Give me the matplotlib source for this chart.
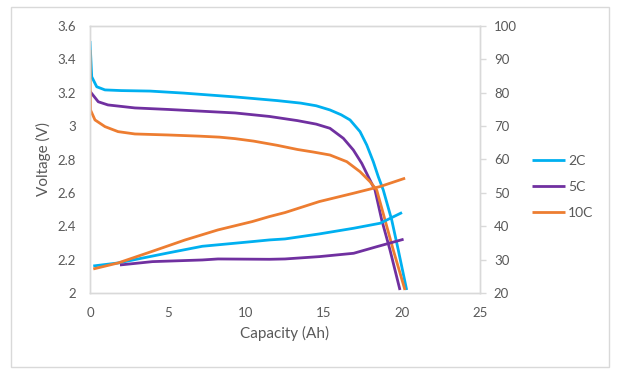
import matplotlib
matplotlib.use('Agg')
import matplotlib.pyplot as plt
from matplotlib.patches import Rectangle

plt.rcParams['font.family'] = ['Lato', 'DejaVu Sans']

# ---------------- data ----------------
series_names = ['2C', '5C', '10C']

# Voltage (left axis)
v2c_x = [0, 0.11, 0.43, 0.96, 2.0, 3.85, 6.0, 9.3, 12.0, 13.5, 14.5, 15.38, 16.1, 16.67, 17.31, 17.74, 18.16, 18.48, 18.80, 19.34, 19.76, 20.30]
v2c_y = [3.51, 3.296, 3.236, 3.217, 3.213, 3.21, 3.198, 3.175, 3.153, 3.138, 3.122, 3.097, 3.068, 3.037, 2.967, 2.887, 2.787, 2.697, 2.617, 2.438, 2.258, 2.018]

v5c_x = [0, 0.02, 0.53, 1.15, 2.88, 5.0, 9.3, 11.5, 13.3, 14.5, 15.38, 16.24, 16.88, 17.42, 17.84, 18.27, 18.70, 19.23, 19.87]
v5c_y = [3.21, 3.206, 3.146, 3.127, 3.109, 3.10, 3.079, 3.058, 3.033, 3.012, 2.987, 2.927, 2.857, 2.777, 2.697, 2.617, 2.438, 2.258, 2.018]

v10c_x = [0, 0.03, 0.32, 0.96, 1.8, 2.88, 5.0, 7.0, 8.3, 9.3, 10.5, 12.0, 13.3, 14.3, 15.38, 16.46, 17.31, 17.95, 18.38, 18.91, 19.44, 20.19]
v10c_y = [3.456, 3.097, 3.037, 2.997, 2.967, 2.953, 2.947, 2.94, 2.934, 2.925, 2.91, 2.885, 2.860, 2.845, 2.827, 2.787, 2.727, 2.667, 2.617, 2.438, 2.258, 2.018]

# Temperature (right axis)
t2c_x = [0.21, 1.8, 5.0, 7.2, 10.4, 11.5, 12.5, 14.7, 16.9, 18.6, 20.0]
t2c_y = [28.1, 29.0, 32.0, 34.0, 35.4, 35.9, 36.2, 37.7, 39.4, 40.9, 44.1]

t5c_x = [1.92, 4.0, 7.2, 8.2, 11.5, 12.5, 14.7, 16.9, 18.4, 20.1]
t5c_y = [28.4, 29.4, 29.9, 30.2, 30.1, 30.2, 30.9, 31.9, 33.9, 36.1]

t10c_x = [0.21, 1.8, 4.0, 6.1, 8.2, 10.4, 11.5, 12.5, 14.7, 16.9, 18.6, 20.2]
t10c_y = [27.2, 29.0, 32.5, 35.9, 38.9, 41.4, 42.9, 44.1, 47.4, 49.9, 51.9, 54.4]

x_ticks = [0, 5, 10, 15, 20, 25]
v_ticks = [2.0, 2.2, 2.4, 2.6, 2.8, 3.0, 3.2, 3.4, 3.6]
v_tick_labels = ['2', '2.2', '2.4', '2.6', '2.8', '3', '3.2', '3.4', '3.6']
t_ticks = [20, 30, 40, 50, 60, 70, 80, 90, 100]

colors = ['#00B0F0', '#7030A0', '#ED7D31']
txt = '#595959'
grid_c = '#D9D9D9'

# ---------------- figure ----------------
fig = plt.figure(figsize=(6.17, 3.75), dpi=100)
fig.patches.append(Rectangle((11 / 617, 1 - 367 / 375), 598 / 617, 360 / 375,
                             transform=fig.transFigure, fill=False,
                             edgecolor=grid_c, linewidth=1.0))

ax = fig.add_axes([90 / 617, 1 - 293 / 375, 390 / 617, 267 / 375])
ax2 = ax.twinx()

lw = 2.0
volt = [(v2c_x, v2c_y), (v5c_x, v5c_y), (v10c_x, v10c_y)]
temp = [(t2c_x, t2c_y), (t5c_x, t5c_y), (t10c_x, t10c_y)]
handles = []
for (vx, vy), name, c in zip(volt, series_names, colors):
    h, = ax.plot(vx, vy, color=c, lw=lw, label=name, solid_capstyle='butt',
                 solid_joinstyle='round')
    handles.append(h)
for (tx, ty), c in zip(temp, colors):
    ax2.plot(tx, ty, color=c, lw=lw, solid_capstyle='butt', solid_joinstyle='round')

ax.set_xlim(0, 25)
ax.set_ylim(2, 3.6)
ax2.set_ylim(20, 100)
ax.set_xticks(x_ticks)
ax.set_xticklabels([str(t) for t in x_ticks])
ax.set_yticks(v_ticks)
ax.set_yticklabels(v_tick_labels)
ax2.set_yticks(t_ticks)

for a in (ax, ax2):
    for s in a.spines.values():
        s.set_color(grid_c)
        s.set_linewidth(1.0)

ax.tick_params(axis='x', length=0, pad=10, labelsize=9.5, labelcolor=txt)
ax.tick_params(axis='y', length=0, pad=10, labelsize=9.5, labelcolor=txt)
ax2.tick_params(axis='y', length=4, width=1, color=grid_c, pad=6,
                labelsize=9.5, labelcolor=txt, direction='out')

ax.set_xlabel('Capacity (Ah)', fontsize=11, color=txt, labelpad=5)
ax.set_ylabel('Voltage (V)', fontsize=11, color=txt, labelpad=5)

fig.legend(handles=handles, labels=series_names, loc='center left',
           bbox_to_anchor=(532 / 617, 1 - 187 / 375), frameon=False,
           fontsize=10, handlelength=2.4, handletextpad=0.2,
           labelspacing=1.0, labelcolor=txt, borderaxespad=0, borderpad=0)

fig.savefig('out.png', dpi=100)
